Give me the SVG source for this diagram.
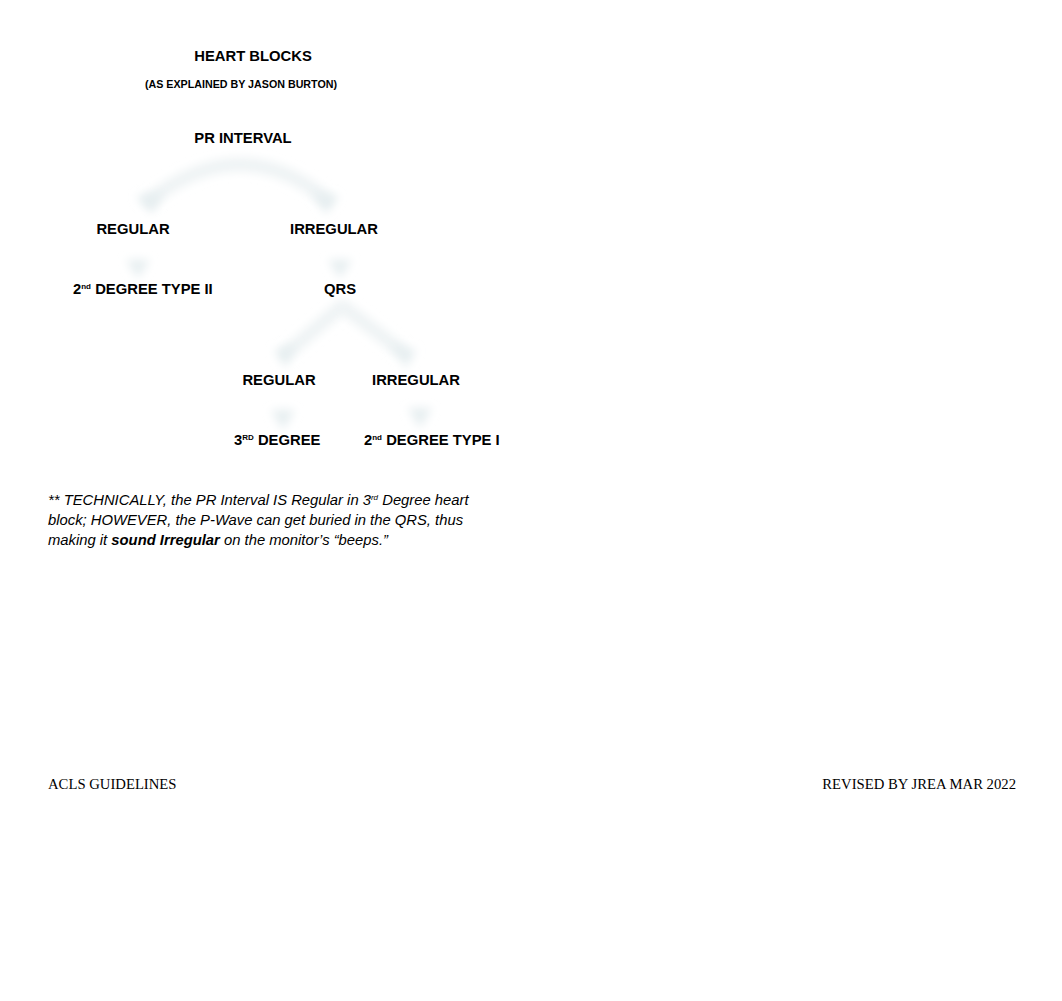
<svg xmlns="http://www.w3.org/2000/svg" width="1062" height="1001" viewBox="0 0 1062 1001">
<style>
.b{font-family:"Liberation Sans",Arial,sans-serif;font-weight:bold;font-size:14.8px;fill:#000}
.s{font-family:"Liberation Sans",Arial,sans-serif;font-weight:bold;font-size:10.7px;fill:#000}
.i{font-family:"Liberation Sans",Arial,sans-serif;font-style:italic;font-size:14.8px;fill:#000}
.f{font-family:"Liberation Serif","Times New Roman",serif;font-size:14.7px;fill:#000}
.c{fill:none;stroke:#eef3f4;stroke-width:13;stroke-linecap:round;filter:url(#bl)}
.h{fill:#e6eef0;filter:url(#bl)}
</style>
<defs>
<filter id="bl" x="-50%" y="-50%" width="200%" height="200%"><feGaussianBlur stdDeviation="5"/></filter>
</defs>
<g id="connectors">
<path class="c" d="M150 200 Q240 130 325 198"/>
<polygon class="h" points="136,196 164,192 152,214"/>
<polygon class="h" points="311,192 339,196 326,214"/>
<path class="c" d="M138 248 L138 266"/>
<polygon class="h" points="126,260 150,260 138,278"/>
<path class="c" d="M340 248 L340 266"/>
<polygon class="h" points="328,260 352,260 340,278"/>
<path class="c" d="M340 308 L288 352"/>
<polygon class="h" points="274,350 296,344 286,368"/>
<path class="c" d="M345 308 L400 350"/>
<polygon class="h" points="390,344 416,350 406,368"/>
<path class="c" d="M283 398 L283 414"/>
<polygon class="h" points="271,410 295,410 283,430"/>
<path class="c" d="M420 396 L420 412"/>
<polygon class="h" points="408,408 432,408 420,428"/>
</g>
<g id="title"><text class="b" x="253" y="61" text-anchor="middle">HEART BLOCKS</text></g>
<g id="subtitle"><text class="s" x="241" y="88" text-anchor="middle">(AS EXPLAINED BY JASON BURTON)</text></g>
<g id="pr"><text class="b" x="243" y="143" text-anchor="middle">PR INTERVAL</text></g>
<g id="regular1"><text class="b" x="133" y="234" text-anchor="middle">REGULAR</text></g>
<g id="irregular1"><text class="b" x="334" y="234" text-anchor="middle">IRREGULAR</text></g>
<g id="deg2type2"><text class="b" x="73" y="294">2<tspan font-size="8" dy="-5">nd</tspan><tspan dy="5"> DEGREE TYPE II</tspan></text></g>
<g id="qrs"><text class="b" x="340" y="294" text-anchor="middle">QRS</text></g>
<g id="regular2"><text class="b" x="279" y="385" text-anchor="middle">REGULAR</text></g>
<g id="irregular2"><text class="b" x="416" y="385" text-anchor="middle">IRREGULAR</text></g>
<g id="deg3"><text class="b" x="234" y="445">3<tspan font-size="8" dy="-5">RD</tspan><tspan dy="5"> DEGREE</tspan></text></g>
<g id="deg2type1"><text class="b" x="364" y="445">2<tspan font-size="8" dy="-5">nd</tspan><tspan dy="5"> DEGREE TYPE I</tspan></text></g>
<g id="note">
<text class="i" x="48" y="505">** TECHNICALLY, the PR Interval IS Regular in 3<tspan font-size="8" dy="-5">rd</tspan><tspan dy="5"> Degree heart</tspan></text>
<text class="i" x="48" y="525">block; HOWEVER, the P-Wave can get buried in the QRS, thus</text>
<text class="i" x="48" y="545">making it <tspan font-weight="bold">sound Irregular</tspan> on the monitor’s “beeps.”</text>
</g>
<g id="footer">
<text class="f" x="48" y="789">ACLS GUIDELINES</text>
<text class="f" x="1016" y="789" text-anchor="end">REVISED BY JREA MAR 2022</text>
</g>
</svg>
